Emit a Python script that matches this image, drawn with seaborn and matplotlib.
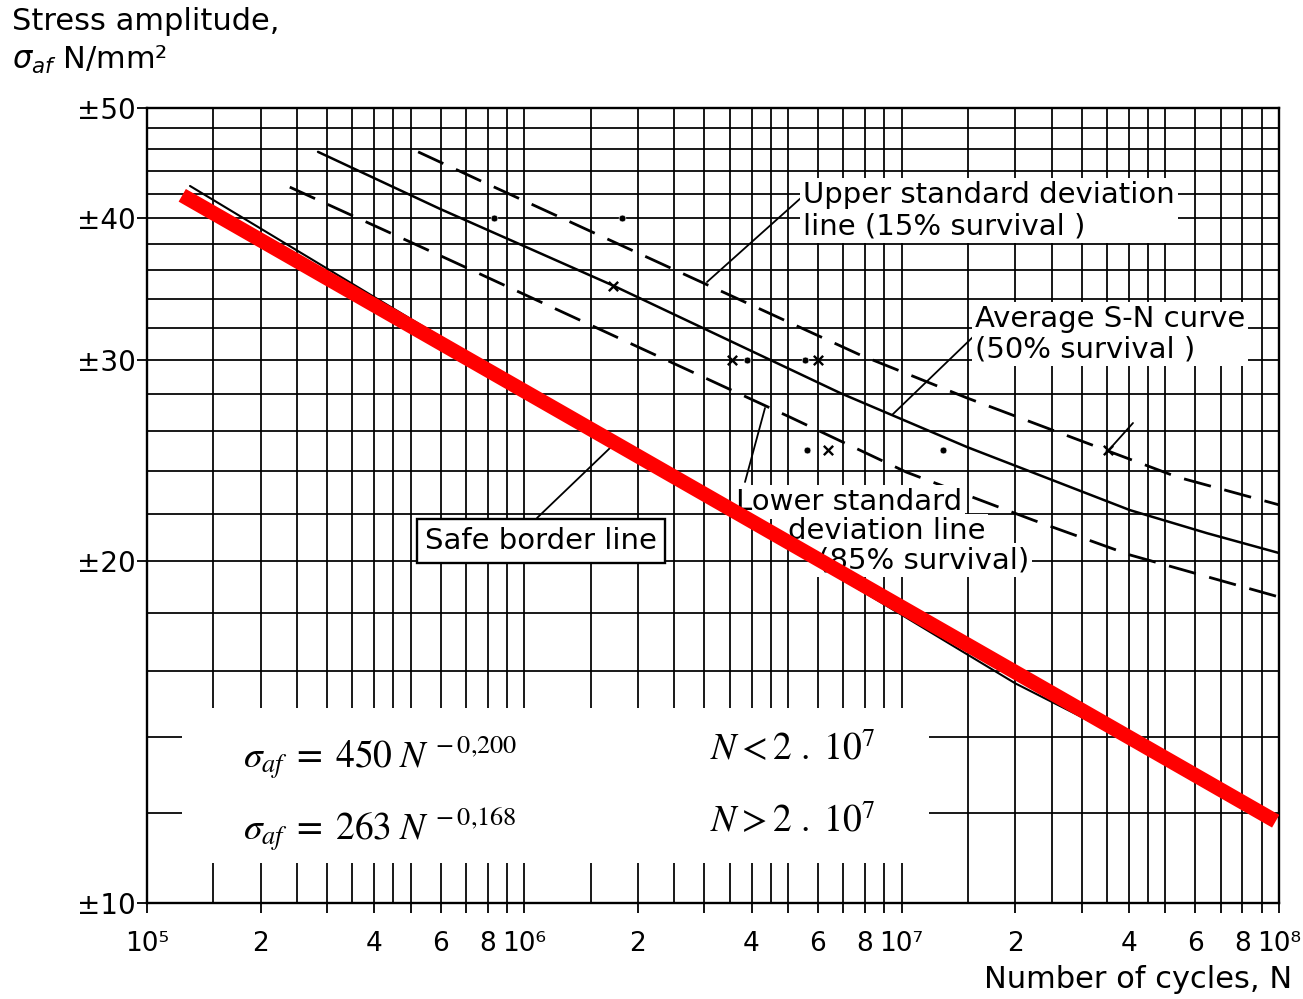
import matplotlib
matplotlib.use("Agg")
import matplotlib.pyplot as plt
from matplotlib.patches import Rectangle
import seaborn as sns
import numpy as np

# S-N curves (N cycles, stress amplitude N/mm2)
avg_N = [2.84e5, 5.98e5, 1.72e6, 6.87e6, 1.49e7, 4.03e7, 6.45e7, 1.0e8]
avg_s = [45.75, 40.76, 34.9, 28.08, 25.17, 22.15, 21.14, 20.31]

upper_N = [5.23e5, 7.77e5, 7.76e6, 1.49e7, 5.37e7, 1.0e8]
upper_s = [45.75, 43.05, 30.33, 27.8, 23.69, 22.39]

lower_N = [2.39e5, 6.35e5, 5.06e6, 1.03e7, 2.23e7, 4.03e7, 1.0e8]
lower_s = [42.6, 36.75, 26.74, 23.92, 21.71, 20.23, 18.58]

safe_N = [1.3e5, 2.0e7, 1.0e8]
safe_s = [42.7, 15.6, 11.9]

red_N = [1.24e5, 9.8e7]
red_s = [41.9, 11.8]

dots_N = [8.3e5, 1.82e6, 3.89e6, 5.55e6, 5.61e6, 1.29e7]
dots_s = [40, 40, 30, 30, 25, 25]
cross_N = [1.72e6, 3.55e6, 6.0e6, 6.38e6, 3.52e7]
cross_s = [34.9, 30, 30, 25, 25]

# axis ticks / grid
decades = [1e5, 1e6, 1e7]
x_tick_mult = [1, 2, 3, 4, 5, 6, 7, 8, 9]
x_tick_text = ['', '2', '', '4', '', '6', '', '8', '']
decade_labels = ['10⁵', '10⁶', '10⁷', '10⁸']
x_minor_mult = [1.5, 2.5, 3.5, 4.5]
y_major = [10, 20, 30, 40, 50]
y_labels = ['±10', '±20', '±30', '±40', '±50']
y_minor = [12, 14, 16, 18, 22, 24, 26, 28, 32, 34, 36, 38, 42, 44, 46, 48]

sns.set_style("white")
plt.rcParams['font.family'] = ['DejaVu Sans']
plt.rcParams['text.color'] = 'black'
plt.rcParams['xtick.color'] = 'black'
plt.rcParams['ytick.color'] = 'black'

fig = plt.figure(figsize=(13.03, 9.99), dpi=100)
ax = fig.add_axes([147/1303, 96/999, 1132/1303, 795/999])
ax.set_xscale('log')
ax.set_yscale('log')
ax.set_xlim(1e5, 1e8)
ax.set_ylim(10, 50)

xt, xl = [], []
for i, d in enumerate(decades):
    for m, t in zip(x_tick_mult, x_tick_text):
        xt.append(m * d)
        xl.append(decade_labels[i] if m == 1 else t)
xt.append(1e8)
xl.append(decade_labels[-1])
ax.set_xticks(xt)
ax.set_xticklabels(xl)
ax.set_xticks([m * d for d in decades for m in x_minor_mult], minor=True)
ax.set_yticks(y_major)
ax.set_yticklabels(y_labels)
ax.set_yticks(y_minor, minor=True)
ax.xaxis.set_minor_formatter(plt.NullFormatter())
ax.yaxis.set_minor_formatter(plt.NullFormatter())
ax.tick_params(bottom=True, left=True)
ax.tick_params(which='major', direction='out', length=7, width=1.3, labelsize=19)
ax.tick_params(axis='x', which='major', pad=13)
ax.tick_params(axis='y', which='major', pad=1, labelsize=20)
ax.tick_params(which='minor', length=0)
ax.grid(which='both', color='black', lw=1.4, alpha=0.9)
for sp in ax.spines.values():
    sp.set_color('black')
    sp.set_linewidth(1.7)


def frac(px, py):
    # pixel position in the reference -> axes fraction
    return ((px - 147) / 1132, (903 - py) / 795)


# white area holding the formulas
x0, y0 = frac(182, 863)
x1, y1 = frac(929, 708)
ax.add_patch(Rectangle((x0, y0), x1 - x0, y1 - y0, transform=ax.transAxes,
                       facecolor='white', edgecolor='none', zorder=1))

dash = (0, (10, 5))
sns.lineplot(x=avg_N, y=avg_s, ax=ax, color='black', lw=1.8, sort=False, estimator=None, zorder=3)
sns.lineplot(x=upper_N, y=upper_s, ax=ax, color='black', lw=2.0, linestyle=dash,
             sort=False, estimator=None, zorder=3)
sns.lineplot(x=lower_N, y=lower_s, ax=ax, color='black', lw=2.0, linestyle=dash,
             sort=False, estimator=None, zorder=3)
sns.lineplot(x=safe_N, y=safe_s, ax=ax, color='black', lw=1.5, sort=False, estimator=None, zorder=3)
sns.scatterplot(x=dots_N, y=dots_s, ax=ax, color='black', marker='o', s=24, zorder=4)
sns.scatterplot(x=cross_N, y=cross_s, ax=ax, color='black', marker='x', s=45, linewidth=1.7, zorder=4)

lab = dict(fontsize=21, color='black', zorder=6, transform=ax.transAxes)
wbox = dict(facecolor='white', edgecolor='none', pad=2)
lead = dict(arrowstyle='-', color='black', lw=1.3, shrinkA=0, shrinkB=0)

# leader lines
for p_from, p_to in [((802, 197), (707, 282)), ((975, 335), (892, 415)),
                     ((745, 482), (765, 408)), ((1107, 452), (1133, 423)),
                     ((537, 518), (610, 448))]:
    ax.annotate('', xy=frac(*p_to), xytext=frac(*p_from), xycoords='axes fraction',
                textcoords='axes fraction', arrowprops=lead, zorder=5)

ax.text(*frac(803, 181), 'Upper standard deviation\nline (15% survival )', ha='left', va='top',
        linespacing=1.15, bbox=wbox, **lab)
ax.text(*frac(975, 305), 'Average S-N curve\n(50% survival )', ha='left', va='top',
        linespacing=1.1, bbox=wbox, **lab)
ax.text(*frac(736, 502), 'Lower standard', ha='left', va='center', bbox=wbox, **lab)
ax.text(*frac(788, 531), 'deviation line', ha='left', va='center', bbox=wbox, **lab)
ax.text(*frac(818, 560), '(85% survival)', ha='left', va='center', bbox=wbox, **lab)
ax.text(*frac(541, 541), 'Safe border line', ha='center', va='center',
        bbox=dict(facecolor='white', edgecolor='black', lw=1.7, pad=6), **lab)

# red highlight drawn over everything
sns.lineplot(x=red_N, y=red_s, ax=ax, color='#ff0000', lw=10.5, sort=False, estimator=None,
             solid_capstyle='butt', zorder=10)

eq = dict(fontsize=27, color='black', math_fontfamily='stix', zorder=6,
          transform=ax.transAxes, va='center', ha='left')
ax.text(*frac(243, 758), r'$\sigma_{af}\;=\;450\;N^{\,-0{,}200}$', **eq)
ax.text(*frac(710, 750), r'$N < 2\ .\ 10^{7}$', **eq)
ax.text(*frac(243, 830), r'$\sigma_{af}\;=\;263\;N^{\,-0{,}168}$', **eq)
ax.text(*frac(710, 822), r'$N > 2\ .\ 10^{7}$', **eq)

fig.text(12/1303, 1 - 22/999, 'Stress amplitude,', fontsize=22, ha='left', va='center')
fig.text(12/1303, 1 - 60/999, r'$\sigma_{af}$ N/mm²', fontsize=22, ha='left', va='center',
         math_fontfamily='dejavusans')
fig.text(1292/1303, 1 - 980/999, 'Number of cycles, N', fontsize=22, ha='right', va='center')

fig.savefig('out.png', dpi=100)
